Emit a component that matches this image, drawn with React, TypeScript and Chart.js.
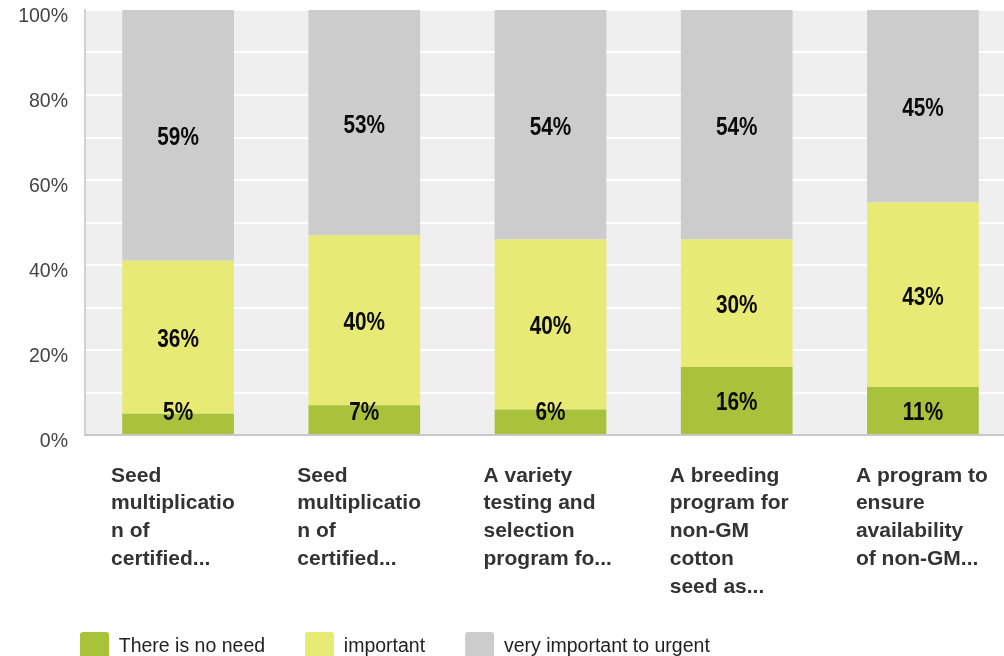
import { useEffect, useRef } from "react";
import { Chart, registerables } from "chart.js";

Chart.register(...registerables);

const categories: string[][] = [
  ["Seed", "multiplicatio", "n of", "certified..."],
  ["Seed", "multiplicatio", "n of", "certified..."],
  ["A variety", "testing and", "selection", "program fo..."],
  ["A breeding", "program for", "non-GM", "cotton", "seed as..."],
  ["A program to", "ensure", "availability", "of non-GM..."],
];

const seriesNames = ["There is no need", "important", "very important to urgent"];
const noNeed = [5, 7, 6, 16, 11.3];
const important = [36, 40, 40, 30, 43.4];
const veryImportant = [59, 53, 54, 54, 45.3];
const seriesColors = ["#a8c23c", "#e8ea76", "#cccccc"];
const yTickLabels = ["0%", "20%", "40%", "60%", "80%", "100%"];

const FONT = "'Liberation Sans', Arial, sans-serif";

const plotBg = {
  id: "plotBg",
  beforeDraw(chart: any) {
    const { ctx, chartArea } = chart;
    ctx.save();
    ctx.fillStyle = "#efefef";
    ctx.fillRect(chartArea.left, chartArea.top, chartArea.right - chartArea.left, chartArea.bottom - chartArea.top);
    ctx.restore();
    // shift the legend so that its first entry starts at x = 80
    if (chart.legend) chart.legend.left = 40;
    // let the category labels use the space down to the legend row
    if (chart.scales.x) chart.scales.x.bottom = chart.scales.x.top + 185;
  },
};

const barLabels = {
  id: "barLabels",
  afterDatasetsDraw(chart: any) {
    const { ctx, chartArea } = chart;
    const sx = 0.83;
    ctx.save();
    ctx.font = `bold 25px ${FONT}`;
    ctx.fillStyle = "#0a0a0a";
    ctx.textAlign = "center";
    ctx.textBaseline = "middle";
    chart.data.datasets.forEach((ds: any, di: number) => {
      const meta = chart.getDatasetMeta(di);
      meta.data.forEach((el: any, i: number) => {
        const v = ds.data[i] as number;
        const y = Math.min((el.y + el.base) / 2, chartArea.bottom - 25);
        ctx.save();
        ctx.translate(el.x, y + 3);
        ctx.scale(sx, 1);
        ctx.fillText(Math.round(v) + "%", 0, 0);
        ctx.restore();
      });
    });
    ctx.restore();
  },
};

export default function App() {
  const ref = useRef<HTMLCanvasElement>(null);

  useEffect(() => {
    const values = [noNeed, important, veryImportant];
    const chart = new Chart(ref.current as HTMLCanvasElement, {
      type: "bar",
      data: {
        labels: categories,
        datasets: values.map((d, i) => ({
          label: seriesNames[i],
          data: d,
          backgroundColor: seriesColors[i],
          borderWidth: 0,
          barPercentage: 0.6,
          categoryPercentage: 1.0,
        })),
      },
      options: {
        animation: false,
        responsive: false,
        devicePixelRatio: 1,
        layout: { padding: { left: 0, top: 10, right: 0, bottom: 0 } },
        plugins: {
          tooltip: { enabled: false },
          legend: {
            position: "bottom",
            align: "start",
            labels: {
              boxWidth: 29,
              boxHeight: 29,
              padding: 40,
              color: "#222222",
              font: { family: FONT, size: 19.5 },
              useBorderRadius: true,
              borderRadius: 3,
            },
          },
        },
        scales: {
          x: {
            stacked: true,
            grid: { display: false, drawTicks: false },
            border: { display: true, color: "#c8c8c8", width: 2, z: 1 },
            ticks: {
              autoSkip: false,
              maxRotation: 0,
              minRotation: 0,
              align: "start",
              labelOffset: -67,
              padding: 27,
              color: "#333333",
              font: { family: FONT, size: 21, weight: "bold", lineHeight: 1.32 },
            },
            afterFit(scale: any) {
              scale.height = 157;
              scale.paddingLeft = 0;
              scale.paddingRight = 0;
            },
          },
          y: {
            stacked: true,
            min: 0,
            max: 100,
            grid: {
              color: (c: any) => (c.tick && c.tick.value === 0 ? "rgba(0,0,0,0)" : "#ffffff"),
              lineWidth: 2,
              drawTicks: false,
            },
            border: { display: true, color: "#d2d2d2", width: 2 },
            ticks: {
              stepSize: 10,
              autoSkip: false,
              padding: 17,
              labelOffset: 7,
              color: "#444444",
              font: { family: FONT, size: 19.5 },
              callback: (v: any) => (Number(v) % 20 === 0 ? yTickLabels[Number(v) / 20] : ""),
            },
            afterFit(scale: any) {
              scale.width = 85;
              scale.paddingTop = 0;
              scale.paddingBottom = 0;
            },
          },
        },
      },
      plugins: [plotBg, barLabels],
    } as any);
    return () => chart.destroy();
  }, []);

  return (
    <div
      style={{
        position: "fixed",
        left: 0,
        top: 0,
        width: 1004,
        height: 656,
        overflow: "hidden",
        background: "#ffffff",
      }}
    >
      <canvas ref={ref} width={1016} height={671} style={{ display: "block", width: 1016, height: 671 }} />
    </div>
  );
}
